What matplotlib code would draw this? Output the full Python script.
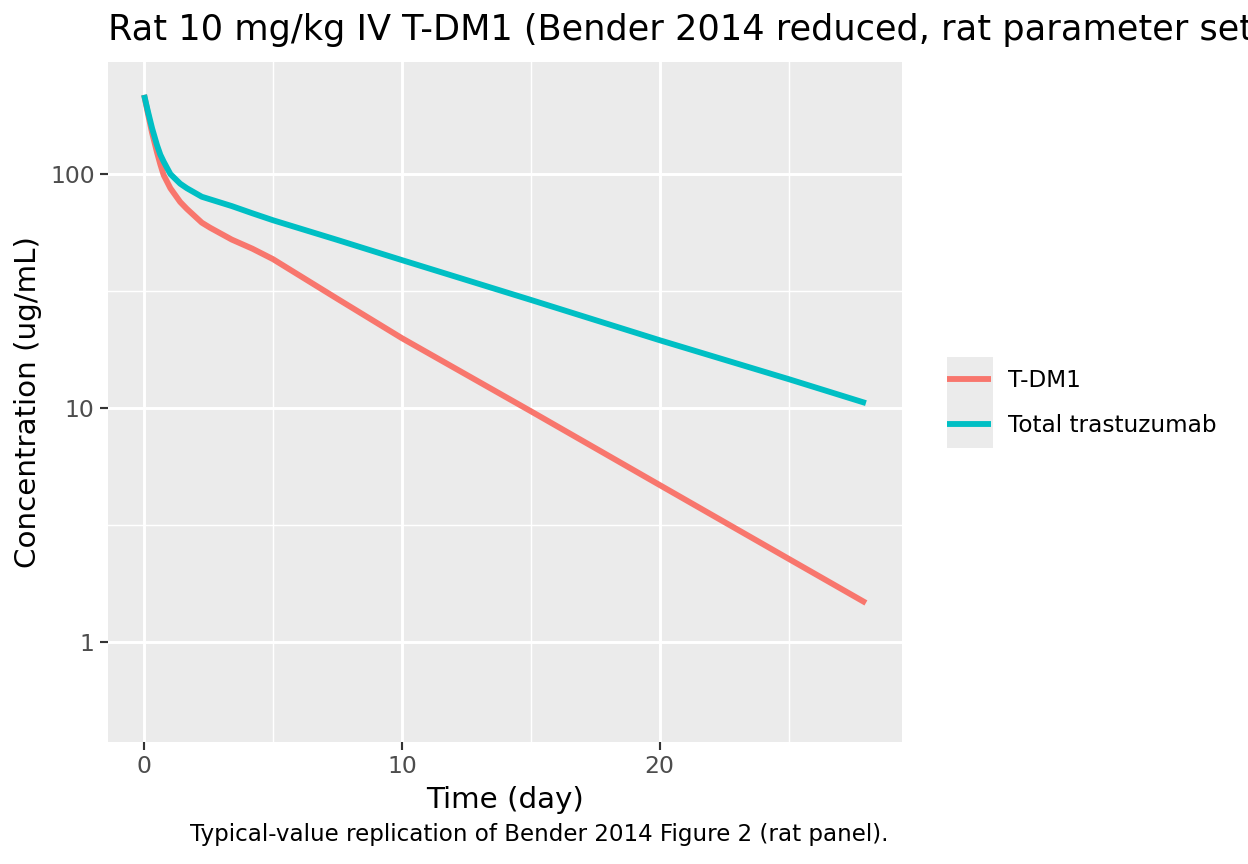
import numpy as np
import matplotlib
matplotlib.use("Agg")
from matplotlib import pyplot as plt
from matplotlib.patches import Rectangle

# data (time in days, concentration in ug/mL)
time = [0.0, 0.15, 0.31, 0.5, 0.63, 0.76, 1.02, 1.4, 1.66, 2.24, 2.56, 3.4, 4.2,
        5.0, 7.5, 10.0, 15.0, 20.0, 25.0, 28.0]
tdm1 = [218, 181, 150, 124, 110, 99, 87, 76, 71, 62, 59, 52.5, 48,
        43.3, 29.3, 19.9, 9.7, 4.69, 2.27, 1.47]
total_tras = [218, 185, 157, 133, 121, 113, 100, 91, 87, 80, 78, 73, 68,
              63.5, 52.3, 42.9, 29.0, 19.5, 13.3, 10.5]

series_names = ["T-DM1", "Total trastuzumab"]
series_colors = ["#F8766D", "#00BFC4"]

title = "Rat 10 mg/kg IV T-DM1 (Bender 2014 reduced, rat parameter set)"
caption = "Typical-value replication of Bender 2014 Figure 2 (rat panel)."

W, H = 1248, 864
fig = plt.figure(figsize=(6.5, 4.5), dpi=192)
ax = fig.add_axes([108/W, 1-742/H, (902-108)/W, (742-62)/H])
ax.set_facecolor("#EBEBEB")
for s in ax.spines.values():
    s.set_visible(False)

# grid (ggplot style)
for xv in [5, 15, 25]:
    ax.axvline(xv, color="white", lw=0.55, zorder=0)
for xv in [0, 10, 20]:
    ax.axvline(xv, color="white", lw=1.1, zorder=0)
for yv in [10**0.5, 10**1.5]:
    ax.axhline(yv, color="white", lw=0.55, zorder=0)
for yv in [1, 10, 100]:
    ax.axhline(yv, color="white", lw=1.1, zorder=0)

t = np.array(time)
lines = []
for vals, name, col in zip([tdm1, total_tras], series_names, series_colors):
    l, = ax.plot(t, vals, color=col, lw=2.2, label=name, solid_capstyle="butt",
                 solid_joinstyle="round", zorder=3)
    lines.append(l)

ax.set_yscale("log")
ax.set_xlim(-1.4, 29.4)
ax.set_ylim(10**-0.427, 10**2.479)
ax.set_xticks([0, 10, 20])
ax.set_xticklabels(["0", "10", "20"])
ax.set_yticks([1, 10, 100])
ax.set_yticklabels(["1", "10", "100"])
ax.minorticks_off()
ax.tick_params(axis="both", length=3, width=0.8, color="#333333",
               labelcolor="#4D4D4D", labelsize=8.8, pad=2)

ax.set_xlabel("Time (day)", fontsize=11, labelpad=3)
ax.set_ylabel("Concentration (ug/mL)", fontsize=11, labelpad=3)

fig.text(108/W, 1-30/H, title, fontsize=13.2, ha="left", va="center")
fig.text(889/W, 1-835/H, caption, fontsize=8.65, ha="right", va="center")

# legend with grey key background
fig.patches.append(Rectangle((947/W, 1-448/H), 46/W, 91/H, transform=fig.transFigure,
                             facecolor="#EBEBEB", edgecolor="none", zorder=0))
leg = fig.legend(handles=lines, labels=series_names, loc="center left",
                 bbox_to_anchor=(926/W, 1-403/H), frameon=False, fontsize=8.7,
                 handlelength=1.9, handletextpad=0.75, labelspacing=0.95)

plt.savefig("out.png", dpi=192)
